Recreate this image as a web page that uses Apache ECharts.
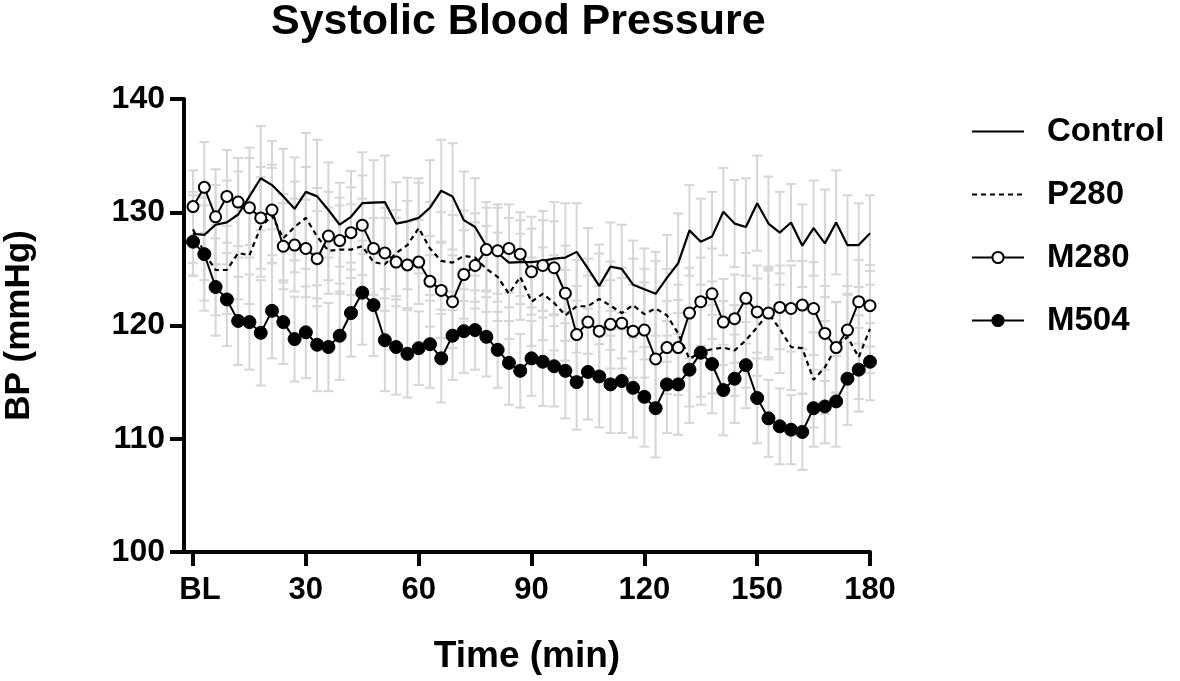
<!DOCTYPE html>
<html>
<head>
<meta charset="utf-8">
<script src="https://cdn.jsdelivr.net/npm/echarts@6/dist/echarts.min.js"></script>
<style>html,body{margin:0;padding:0;background:#fff;}#chart{width:1180px;height:681px;}</style>
</head>
<body>
<div id="chart"></div>
<script>
const times = [0,3,6,9,12,15,18,21,24,27,30,33,36,39,42,45,48,51,54,57,60,63,66,69,72,75,78,81,84,87,90,93,96,99,102,105,108,111,114,117,120,123,126,129,132,135,138,141,144,147,150,153,156,159,162,165,168,171,174,177,180];
const xTickValues = [0,30,60,90,120,150,180];
const yTickValues = [100,110,120,130,140];

const controlMean = [128.1,128.0,128.9,129.1,129.8,131.4,133.0,132.4,131.4,130.3,131.8,131.4,130.2,128.9,129.6,130.8,130.85,130.9,129.0,129.2,129.5,130.4,131.9,131.4,129.3,128.7,127.0,126.4,125.55,125.6,125.6,125.7,125.9,126.0,126.5,125.05,123.5,125.2,125.0,123.6,123.2,122.8,124.2,125.5,128.4,127.4,127.85,130.05,129.0,128.7,130.8,129.0,128.2,129.1,127.05,128.6,127.25,129.1,127.1,127.1,128.15];
const p280Mean = [128.5,126.4,124.9,124.9,126.4,126.2,128.7,129.7,127.7,128.7,129.5,127.85,126.6,126.7,126.7,127.0,125.6,125.4,126.4,127.1,128.6,126.8,125.7,125.55,126.15,126.0,125.0,124.3,122.8,124.3,122.1,122.8,122.0,120.9,121.7,121.7,122.35,121.75,121.1,121.8,121.0,121.5,120.9,119.3,117.05,117.7,117.9,118.05,117.8,118.7,119.85,121.1,119.7,118.1,118.0,115.2,116.3,118.1,119.0,117.2,119.7];
const m280Mean = [130.5,132.2,129.6,131.4,130.9,130.4,129.5,130.2,127.0,127.1,126.8,125.9,127.9,127.5,128.2,128.85,126.8,126.4,125.6,125.35,125.6,123.9,123.1,122.1,124.5,125.3,126.7,126.6,126.8,126.3,124.75,125.3,125.1,122.85,119.2,120.3,119.5,120.1,120.2,119.5,119.6,117.05,118.05,118.05,121.1,122.1,122.8,120.3,120.6,122.4,121.2,121.1,121.6,121.5,121.8,121.5,119.3,118.05,119.6,122.1,121.75];
const m504Mean = [127.4,126.3,123.4,122.3,120.4,120.3,119.35,121.3,120.3,118.8,119.4,118.3,118.1,119.1,121.1,122.9,121.8,118.7,118.1,117.5,118.0,118.35,117.1,119.1,119.5,119.6,119.0,117.85,116.7,116.0,117.1,116.8,116.4,116.0,115.0,115.9,115.5,114.8,115.1,114.5,113.7,112.7,114.8,114.8,116.1,117.6,116.6,114.3,115.3,116.5,113.6,111.8,111.1,110.8,110.6,112.7,112.85,113.3,115.3,116.1,116.8];

const controlErr = [3.7,4.0,3.5,3.7,3.8,4.3,4.6,3.9,4.2,4.55,5.2,5.0,4.2,3.7,4.05,4.5,3.75,4.1,3.65,3.85,3.5,4.2,4.5,4.7,4.3,4.3,3.9,4.3,3.95,3.7,4.0,4.4,5.0,4.8,4.3,3.55,3.65,3.9,3.9,3.9,3.6,3.7,3.8,4.4,4.0,3.8,3.95,3.85,3.85,4.3,4.2,4.15,3.6,3.4,3.65,4.2,4.75,4.6,4.4,3.7,3.35];
const p280Err = [3.0,4.2,4.0,3.9,4.1,4.3,4.4,4.2,3.9,4.0,4.5,4.3,3.8,3.9,4.0,4.2,3.9,4.1,3.8,3.9,4.0,4.1,4.3,4.2,4.0,3.9,3.8,3.9,4.0,3.8,3.9,4.1,4.2,4.0,4.1,4.2,4.0,3.9,4.0,4.1,4.0,4.2,4.1,4.3,4.2,4.0,3.9,4.1,4.0,4.2,4.3,4.1,3.9,3.8,4.0,4.2,4.1,4.0,3.8,3.7,3.9];
const m280Err = [3.2,4.0,4.2,4.1,3.9,4.4,4.5,4.0,3.8,4.1,4.3,4.2,3.9,3.8,4.0,4.4,4.1,4.0,3.9,3.8,3.7,4.0,4.2,4.1,3.9,3.8,3.7,3.8,3.9,3.7,3.8,4.0,4.1,4.2,4.3,4.1,4.0,3.9,4.0,4.1,4.2,4.3,4.1,4.2,4.0,3.9,4.0,3.8,3.9,4.0,4.1,3.9,3.7,3.8,3.9,4.1,4.2,4.0,3.9,3.7,3.6];
const m504Err = [3.0,5.0,4.3,4.1,3.9,4.2,4.65,4.2,3.7,3.75,4.05,4.1,3.9,3.9,3.85,4.6,4.5,4.5,4.2,3.85,3.25,3.85,3.9,3.9,3.7,3.5,3.5,3.35,3.7,3.25,3.3,3.9,3.55,4.2,4.2,4.2,4.5,4.3,4.6,4.4,4.4,4.35,4.3,4.45,4.7,4.6,4.35,4.0,3.9,3.8,4.0,3.4,3.35,3.05,3.35,3.4,3.25,4.0,4.1,3.7,3.4];

const FONT = "'Liberation Sans', Arial, Helvetica, sans-serif";
const ERR_COLOR = '#d6d6d6';

function pairs(mean){ return times.map((t,i)=>[t, mean[i]]); }
function errData(mean, err){ return times.map((t,i)=>[t, mean[i]-err[i], mean[i]+err[i]]); }

function renderErr(params, api){
  const x = api.value(0), lo = api.value(1), hi = api.value(2);
  const top = api.coord([x, hi]);
  const bot = api.coord([x, lo]);
  const w = 5;
  const st = {stroke: ERR_COLOR, lineWidth: 2};
  return {type:'group', children:[
    {type:'line', shape:{x1:top[0], y1:top[1], x2:bot[0], y2:bot[1]}, style:st},
    {type:'line', shape:{x1:top[0]-w, y1:top[1], x2:top[0]+w, y2:top[1]}, style:st},
    {type:'line', shape:{x1:bot[0]-w, y1:bot[1], x2:bot[0]+w, y2:bot[1]}, style:st}
  ]};
}
function errSeries(name, mean, err){
  return {type:'custom', name:name+' SEM', renderItem:renderErr, data:errData(mean, err),
    encode:{x:0, y:[1,2]}, z:1, silent:true, clip:false};
}

const chart = echarts.init(document.getElementById('chart'), null, {renderer:'canvas'});
chart.setOption({
  animation:false,
  backgroundColor:'#fff',
  title:{text:'Systolic Blood Pressure', left:271, top:1, padding:0,
    textStyle:{fontFamily:FONT, fontSize:43, fontWeight:'bold', color:'#000'}},
  grid:{left:184, right:310, top:99, bottom:129, containLabel:false, outerBoundsMode:'none'},
  legend:{
    orient:'vertical', left:966, top:110, itemWidth:52, itemHeight:14, itemGap:30,
    data:[
      {name:'Control', itemStyle:{opacity:0}},
      {name:'P280', itemStyle:{opacity:0}},
      {name:'M280'},
      {name:'M504'}
    ],
    textStyle:{fontFamily:FONT, fontSize:33, fontWeight:'bold', color:'#000', padding:[0,0,0,18]}
  },
  xAxis:{
    type:'value', min:-2.4, max:180,
    name:'Time (min)', nameLocation:'middle', nameGap:86,
    nameTextStyle:{fontFamily:FONT, fontSize:37, fontWeight:'bold', color:'#000'},
    axisLine:{show:true, onZero:false, lineStyle:{color:'#000', width:4}},
    axisTick:{show:true, customValues:xTickValues, length:14, lineStyle:{color:'#000', width:4}},
    axisLabel:{customValues:xTickValues, margin:23, fontFamily:FONT, fontSize:31, fontWeight:'bold', color:'#000',
      formatter:v=> v===0 ? '{bl|BL}' : String(v),
      rich:{bl:{fontFamily:FONT, fontSize:31, fontWeight:'bold', color:'#000', padding:[0,0,0,14]}}},
    splitLine:{show:false}
  },
  yAxis:{
    type:'value', min:100, max:140, interval:10,
    name:'BP (mmHg)', nameLocation:'middle', nameGap:147,
    nameTextStyle:{fontFamily:FONT, fontSize:35, fontWeight:'bold', color:'#000'},
    axisLine:{show:true, onZero:false, lineStyle:{color:'#000', width:4}},
    axisTick:{show:true, length:14, lineStyle:{color:'#000', width:4}},
    axisLabel:{margin:19, fontFamily:FONT, fontSize:32, fontWeight:'bold', color:'#000'},
    splitLine:{show:false}
  },
  series:[
    errSeries('Control', controlMean, controlErr),
    errSeries('P280', p280Mean, p280Err),
    errSeries('M280', m280Mean, m280Err),
    errSeries('M504', m504Mean, m504Err),
    {type:'line', name:'Control', data:pairs(controlMean), showSymbol:false, symbol:'none',
      lineStyle:{color:'#000', width:2.2}, itemStyle:{color:'#000'}, z:3},
    {type:'line', name:'P280', data:pairs(p280Mean), showSymbol:false, symbol:'none',
      lineStyle:{color:'#000', width:2.2, type:[5,4]}, itemStyle:{color:'#000'}, z:3},
    {type:'line', name:'M280', data:pairs(m280Mean), symbol:'circle', symbolSize:11,
      lineStyle:{color:'#000', width:2}, itemStyle:{color:'#fff', borderColor:'#000', borderWidth:2}, z:4},
    {type:'line', name:'M504', data:pairs(m504Mean), symbol:'circle', symbolSize:13,
      lineStyle:{color:'#000', width:2}, itemStyle:{color:'#000', borderColor:'#000', borderWidth:1}, z:5}
  ]
});
</script>
</body>
</html>
